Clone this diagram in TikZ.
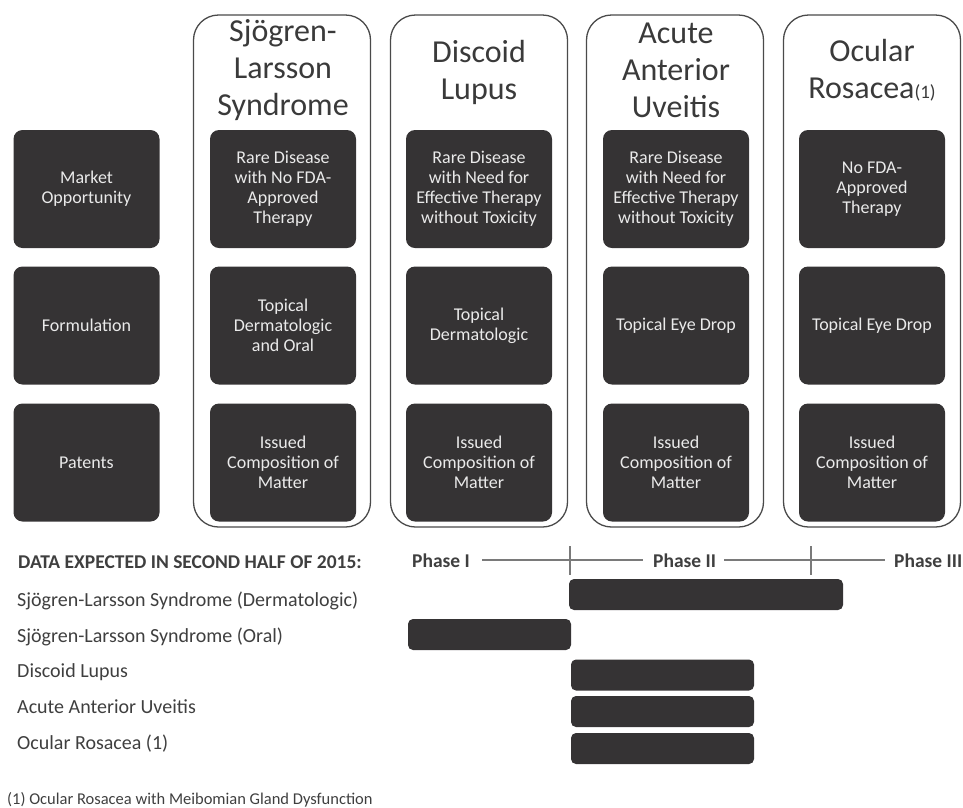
\documentclass[tikz,border=0pt]{standalone}
\usepackage{fontspec}
\setmainfont{Carlito}
\definecolor{boxfill}{HTML}{353334}
\definecolor{boxtext}{HTML}{EAEAEA}
\definecolor{headtext}{HTML}{3A3A3A}
\definecolor{framecol}{HTML}{4A4A4A}
\definecolor{labeltext}{HTML}{3F3F3F}
\definecolor{phasecol}{HTML}{7A7A7A}
\begin{document}
\begin{tikzpicture}[x=1pt,y=-1pt,
  darkbox/.style={fill=boxfill, rounded corners=9pt, minimum width=146pt, minimum height=118pt,
    inner sep=0pt, text=boxtext, align=center, font=\fontsize{18}{20}\selectfont},
  colframe/.style={draw=framecol, line width=1.3pt, rounded corners=25pt, minimum width=177pt,
    minimum height=512pt, inner sep=0pt},
  header/.style={text=headtext, align=center, font=\fontsize{32}{37}\selectfont, inner sep=0pt},
  bar/.style={fill=boxfill, rounded corners=5pt, minimum height=31pt, inner sep=0pt},
  rowlabel/.style={anchor=base west, inner sep=0pt, text=labeltext, font=\fontsize{20}{24}\selectfont},
  phasetext/.style={anchor=base west, inner sep=0pt, text=labeltext, font=\fontsize{19.5}{22}\bfseries},
  phaseline/.style={draw=phasecol, line width=2pt}
]
\useasboundingbox (0,0) rectangle (963,807);

% column frames
\node[colframe] (f2) at (282,271) {};
\node[colframe] (f3) at (479,271) {};
\node[colframe] (f4) at (675,271) {};
\node[colframe] (f5) at (872,271) {};

% headers
\node[header] (h2) at (283,70) {Sjögren-\\Larsson\\Syndrome};
\node[header] (h3) at (479,72) {Discoid\\Lupus};
\node[header] (h4) at (676,70) {Acute\\Anterior\\Uveitis};
\node[header] (h5) at (872,70) {Ocular\\Rosacea{\fontsize{19}{20}\selectfont(1)}};

% row 1
\node[darkbox] (m1) at (86.5,189) {Market\\Opportunity};
\node[darkbox] (m2) at (283,189) {Rare Disease\\with No FDA-\\Approved\\Therapy};
\node[darkbox] (m3) at (479,189) {Rare Disease\\with Need for\\Effective Therapy\\without Toxicity};
\node[darkbox] (m4) at (676,189) {Rare Disease\\with Need for\\Effective Therapy\\without Toxicity};
\node[darkbox] (m5) at (872,189) {No FDA-\\Approved\\Therapy};

% row 2
\node[darkbox] (r1) at (86.5,325.5) {Formulation};
\node[darkbox] (r2) at (283,325.5) {Topical\\Dermatologic\\and Oral};
\node[darkbox] (r3) at (479,325.5) {Topical\\Dermatologic};
\node[darkbox] (r4) at (676,325.5) {Topical Eye Drop};
\node[darkbox] (r5) at (872,325.5) {Topical Eye Drop};

% row 3
\node[darkbox] (p1) at (86.5,462.5) {Patents};
\node[darkbox] (p2) at (283,462.5) {Issued\\Composition of\\Matter};
\node[darkbox] (p3) at (479,462.5) {Issued\\Composition of\\Matter};
\node[darkbox] (p4) at (676,462.5) {Issued\\Composition of\\Matter};
\node[darkbox] (p5) at (872,462.5) {Issued\\Composition of\\Matter};

% data expected section
\node[anchor=base west, inner sep=0pt, text=labeltext, font=\fontsize{19.5}{22}\bfseries] (dt) at (18,568) {DATA EXPECTED IN SECOND HALF OF 2015:};
\node[phasetext] (ph1) at (412,567) {Phase I};
\node[phasetext] (ph2) at (653,567) {Phase II};
\node[phasetext] (ph3) at (894,567) {Phase III};
\coordinate (t1a) at (570,546);
\coordinate (t1b) at (570,575);
\coordinate (t2a) at (811,546);
\coordinate (t2b) at (811,575);
\draw[phaseline] ([xshift=12pt]ph1.east) -- ([xshift=-10pt]ph2.west);
\draw[phaseline] ([xshift=8pt]ph2.east) -- ([xshift=-9pt]ph3.west);
\draw[phaseline] (t1a) -- (t1b);
\draw[phaseline] (t2a) -- (t2b);

\node[rowlabel] (l1) at (17,606) {Sjögren-Larsson Syndrome (Dermatologic)};
\node[rowlabel] (l2) at (17,642) {Sjögren-Larsson Syndrome (Oral)};
\node[rowlabel] (l3) at (17,677) {Discoid Lupus};
\node[rowlabel] (l4) at (17,713) {Acute Anterior Uveitis};
\node[rowlabel] (l5) at (17,749) {Ocular Rosacea (1)};

\node[bar, minimum width=274pt] (b1) at (706,594.5) {};
\node[bar, minimum width=163pt] (b2) at (489.5,634.5) {};
\node[bar, minimum width=183pt] (b3) at (662.5,675) {};
\node[bar, minimum width=183pt] (b4) at (662.5,711.5) {};
\node[bar, minimum width=183pt] (b5) at (662.5,748.5) {};

\node[anchor=base west, inner sep=0pt, text=labeltext, font=\fontsize{16.5}{19}\selectfont] (fn) at (7,804) {(1) Ocular Rosacea with Meibomian Gland Dysfunction};
\end{tikzpicture}
\end{document}
